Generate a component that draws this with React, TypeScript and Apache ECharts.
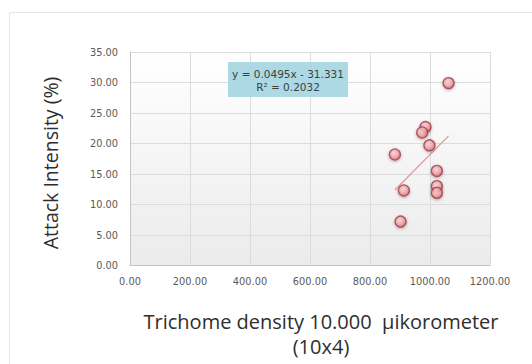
import React, { useEffect, useRef } from "react";
import * as echarts from "echarts";

const trichomeDensity = [1062, 985, 974, 998, 883, 1023, 1023, 1023, 913, 902];
const attackIntensity = [29.9, 22.7, 21.8, 19.7, 18.2, 15.5, 13.0, 11.9, 12.3, 7.2];
const trendSlope = 0.0495;
const trendIntercept = -31.331;
const rSquared = "0.2032";
const xTitleLines = ["Trichome density 10.000  µikorometer", "(10x4)"];
const yTitle = "Attack Intensity (%)";

export default function App() {
  const ref = useRef<HTMLDivElement>(null);
  useEffect(() => {
    if (!ref.current) return;
    const chart = echarts.init(ref.current, null, { renderer: "svg" });
    const points = trichomeDensity.map((x, i) => [x, attackIntensity[i]]);
    const xMin = Math.min(...trichomeDensity);
    const xMax = Math.max(...trichomeDensity);
    const trend = [
      [xMin, trendSlope * xMin + trendIntercept],
      [xMax, trendSlope * xMax + trendIntercept],
    ];
    const labelStyle = {
      fontFamily: "DejaVu Sans",
      fontSize: 9.8,
      color: "#5a5a5a",
      formatter: (v: number) => v.toFixed(2),
    };
    const titleStyle = {
      fontFamily: "Open Sans",
      fontSize: 20,
      fill: "#2e2e2e",
      align: "center",
      verticalAlign: "middle",
    };
    chart.setOption({
      animation: false,
      backgroundColor: "#ffffff",
      grid: {
        left: 130,
        right: 42,
        top: 52,
        bottom: 98.5,
        show: true,
        borderWidth: 0,
        backgroundColor: new echarts.graphic.LinearGradient(0, 0, 0, 1, [
          { offset: 0, color: "#ffffff" },
          { offset: 1, color: "#ebebeb" },
        ]),
      },
      xAxis: {
        type: "value",
        min: 0,
        max: 1200,
        interval: 200,
        axisLabel: { ...labelStyle, margin: 11 },
        axisTick: { show: false },
        axisLine: { show: true, onZero: false, lineStyle: { color: "#c4c4c4" } },
        splitLine: { show: true, lineStyle: { color: "#dcdcdc", width: 1 } },
      },
      yAxis: {
        type: "value",
        min: 0,
        max: 35,
        interval: 5,
        axisLabel: { ...labelStyle, margin: 12 },
        axisTick: { show: false },
        axisLine: { show: true, onZero: false, lineStyle: { color: "#c4c4c4" } },
        splitLine: { show: true, lineStyle: { color: "#dcdcdc", width: 1 } },
      },
      series: [
        {
          type: "line",
          data: trend,
          symbol: "none",
          z: 2,
          lineStyle: { color: "#d9989a", width: 1.2 },
        },
        {
          type: "scatter",
          data: points,
          symbolSize: 11,
          z: 3,
          itemStyle: {
            color: new echarts.graphic.RadialGradient(0.42, 0.38, 0.6, [
              { offset: 0, color: "#fcd6da" },
              { offset: 0.6, color: "#f2a4ab" },
              { offset: 1, color: "#d9707a" },
            ]),
            borderColor: "#a23c44",
            borderWidth: 1.3,
            shadowBlur: 3,
            shadowColor: "rgba(0,0,0,0.35)",
            shadowOffsetY: 1,
          },
        },
      ],
      graphic: [
        {
          type: "rect",
          z: 100,
          shape: { x: 9.5, y: 12.5, width: 600, height: 500 },
          style: { fill: "none", stroke: "#e8e8df", lineWidth: 1 },
          silent: true,
        },
        {
          type: "rect",
          z: 100,
          shape: { x: 228, y: 62, width: 120, height: 35 },
          style: { fill: "#acd9e3" },
        },
        {
          type: "text",
          z: 101,
          x: 288,
          y: 73.5,
          style: {
            text: `y = ${trendSlope}x - ${Math.abs(trendIntercept)}`,
            fontFamily: "DejaVu Sans",
            fontSize: 10.5,
            fill: "#404040",
            align: "center",
            verticalAlign: "middle",
          },
        },
        {
          type: "text",
          z: 101,
          x: 288,
          y: 86.5,
          style: {
            text: `R² = ${rSquared}`,
            fontFamily: "DejaVu Sans",
            fontSize: 10.5,
            fill: "#404040",
            align: "center",
            verticalAlign: "middle",
          },
        },
        {
          type: "text",
          z: 100,
          x: 321,
          y: 321,
          style: { ...titleStyle, text: xTitleLines[0] },
        },
        {
          type: "text",
          z: 100,
          x: 321,
          y: 346,
          style: { ...titleStyle, text: xTitleLines[1] },
        },
        {
          type: "text",
          z: 100,
          x: 50,
          y: 163,
          rotation: Math.PI / 2,
          style: { ...titleStyle, fontSize: 19.5, text: yTitle },
        },
      ],
    });
    return () => chart.dispose();
  }, []);
  return (
    <div
      ref={ref}
      style={{ position: "fixed", left: 0, top: 0, width: 532, height: 364 }}
    />
  );
}
